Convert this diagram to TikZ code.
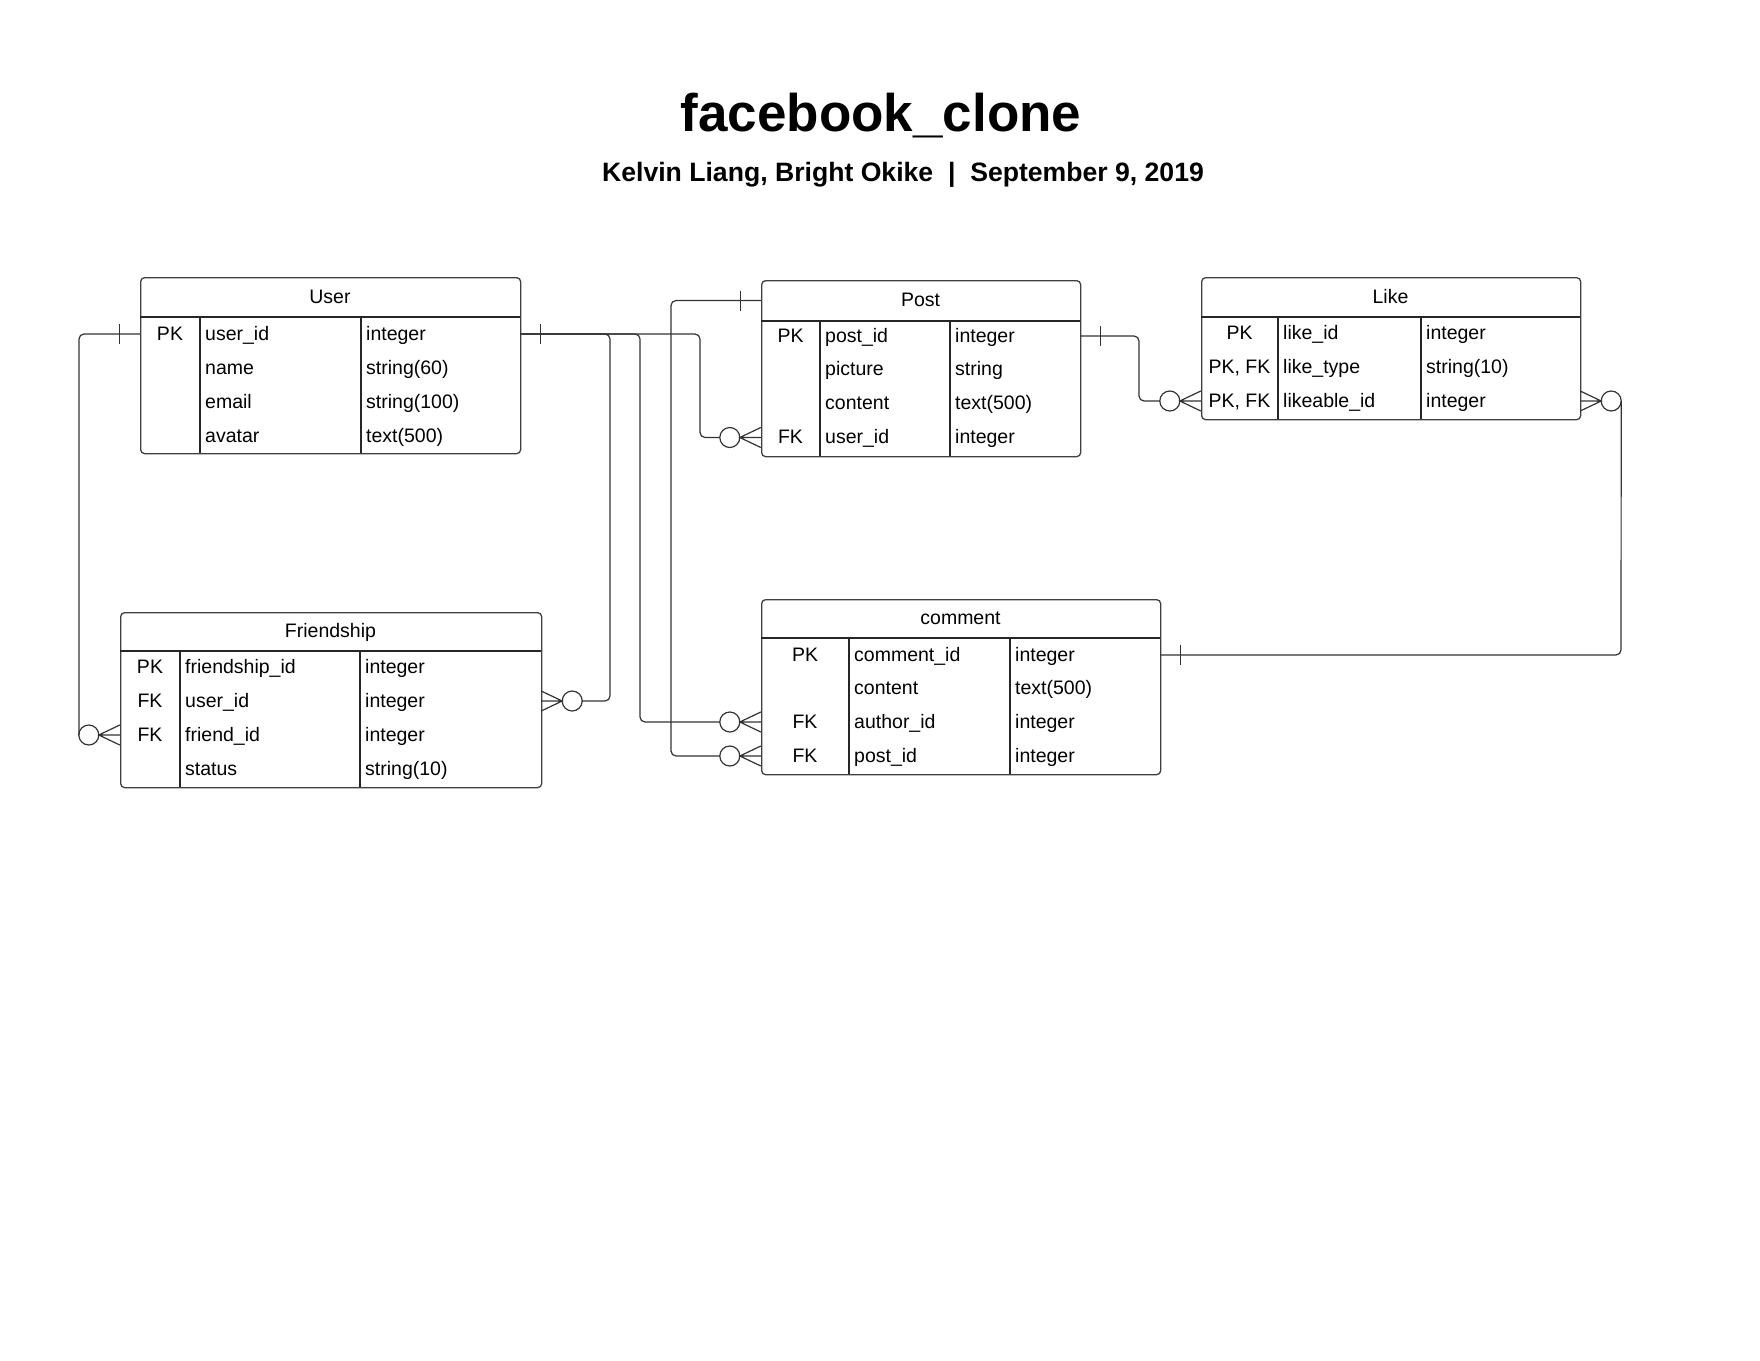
\documentclass[tikz,border=0pt]{standalone}
\usepackage{fontspec}
\setmainfont{Liberation Sans}
\usetikzlibrary{calc}

\newcommand\mktable[9]{%
  \def\tL{#2}\def\tR{#4}\def\tA{#7}\def\tB{#8}%
  \node[tblbox, minimum width={#4-#2}, minimum height={#6-#3}, anchor=north west] (#1) at (#2,#3) {};
  \draw[tblline] (#2,#5) -- (#4,#5) (#7,#5) -- (#7,#6) (#8,#5) -- (#8,#6);
  \node[rowbox, minimum width={#4-#2}] (#10) at ({(#2+#4)/2},{(#3+#5)/2}) {};
  \node[cell] (#1t) at ({(#2+#4)/2},{(#3+#5)/2}) {#9};
}
\newcommand\mkrow[5]{%
  \node[rowbox, minimum width={\tR-\tL}] (#1) at ({(\tL+\tR)/2},#2) {};
  \node[cell] (#1k) at ({(\tL+\tA)/2},#2) {#3};
  \node[cell, anchor=west] (#1f) at ({\tA+5},#2) {#4};
  \node[cell, anchor=west] (#1y) at ({\tB+5},#2) {#5};
}

\begin{document}
\begin{tikzpicture}[x=1pt,y=-1pt,
  conn/.style={draw=black!80, line width=1.2pt},
  rc/.style={rounded corners=5pt},
  tblbox/.style={draw=black!75, line width=1.3pt, rounded corners=4pt, inner sep=0pt},
  tblline/.style={draw=black!85, line width=1.1pt},
  rowbox/.style={inner sep=0pt, minimum height=30pt, draw=none},
  cell/.style={inner sep=0pt, text height=13pt, text depth=1pt, font=\fontsize{19.5}{23}\selectfont},
  crowzero/.pic={\draw[conn] (-31,0) circle[radius=10];
                 \draw[conn] (0,-10) -- (-21,0) -- (0,10) (-21,0) -- (0,0);},
  onebar/.pic={\draw[conn] (-20,-10) -- (-20,10);}
]
\useasboundingbox[fill=white] (0,0) rectangle (1760,1360);

% titles
\node[anchor=base, inner sep=0pt, font=\bfseries\fontsize{53}{60}\selectfont] (title) at (881,131.7) {facebook\_clone};
\node[anchor=base, inner sep=0pt, font=\bfseries\fontsize{26.6}{30}\selectfont] (subtitle) at (903,181.7)
  {Kelvin Liang, Bright Okike\hspace{0.556em}|\hspace{0.556em}September 9, 2019};

% User
\mktable{user}{140}{277}{520}{317}{453}{200}{361}{User}
\mkrow{user1}{334}{PK}{user\_id}{integer}
\mkrow{user2}{368}{}{name}{string(60)}
\mkrow{user3}{402}{}{email}{string(100)}
\mkrow{user4}{436}{}{avatar}{text(500)}

% Post
\mktable{post}{761}{280}{1080}{321}{456}{820}{950}{Post}
\mkrow{post1}{336}{PK}{post\_id}{integer}
\mkrow{post2}{369.5}{}{picture}{string}
\mkrow{post3}{403.5}{}{content}{text(500)}
\mkrow{post4}{437.5}{FK}{user\_id}{integer}

% Like
\mktable{like}{1201}{277}{1580}{317}{419}{1278}{1421}{Like}
\mkrow{like1}{333.5}{PK}{like\_id}{integer}
\mkrow{like2}{367.5}{PK, FK}{like\_type}{string(10)}
\mkrow{like3}{401}{PK, FK}{likeable\_id}{integer}

% Friendship
\mktable{fr}{120}{612}{541}{651}{787}{180}{360}{Friendship}
\mkrow{fr1}{667}{PK}{friendship\_id}{integer}
\mkrow{fr2}{701}{FK}{user\_id}{integer}
\mkrow{fr3}{735}{FK}{friend\_id}{integer}
\mkrow{fr4}{769}{}{status}{string(10)}

% comment
\mktable{cm}{761}{599}{1160}{638}{774}{849}{1010}{comment}
\mkrow{cm1}{655}{PK}{comment\_id}{integer}
\mkrow{cm2}{688.5}{}{content}{text(500)}
\mkrow{cm3}{722}{FK}{author\_id}{integer}
\mkrow{cm4}{756}{FK}{post\_id}{integer}

% lanes
\coordinate (laneL) at (79,0);
\coordinate (laneF) at (610,0);
\coordinate (laneC) at (640,0);
\coordinate (laneQ) at (671,0);
\coordinate (laneP) at (700,0);
\coordinate (laneR) at (1139,0);
\coordinate (laneS) at (1621,0);

% User -> Friendship.friend_id
\draw[conn, rc] (user1.west) -- (user1.west -| laneL) -- (laneL |- fr3.west);
\pic at (user1.west) {onebar};
\pic at (fr3.west) {crowzero};

% User -> Post.user_id
\draw[conn, rc] (user1.east) -- (user1.east -| laneP) -- (laneP |- post4.west) -- ($(post4.west)+(-41,0)$);
\pic[xscale=-1] at (user1.east) {onebar};
\pic at (post4.west) {crowzero};

% User -> Friendship.user_id
\draw[conn, rc] (user1.east) -- (user1.east -| laneF) -- (laneF |- fr2.east) -- ($(fr2.east)+(41,0)$);
\pic[xscale=-1] at (fr2.east) {crowzero};

% User -> comment.author_id
\draw[conn, rc] (user1.east) -- (user1.east -| laneC) -- (laneC |- cm3.west) -- ($(cm3.west)+(-41,0)$);
\pic at (cm3.west) {crowzero};

% Post -> comment.post_id
\draw[conn, rc] (post0.west) -- (post0.west -| laneQ) -- (laneQ |- cm4.west) -- ($(cm4.west)+(-41,0)$);
\pic at (post0.west) {onebar};
\pic at (cm4.west) {crowzero};

% Post -> Like.likeable_id
\draw[conn, rc] (post1.east) -- (post1.east -| laneR) -- (laneR |- like3.west) -- ($(like3.west)+(-41,0)$);
\pic[xscale=-1] at (post1.east) {onebar};
\pic at (like3.west) {crowzero};

% comment -> Like.likeable_id
\draw[conn, rc] ($(like3.east)+(41,0)$) -- (laneS |- cm1.east) -- (cm1.east);
\pic[xscale=-1] at (like3.east) {crowzero};
\pic[xscale=-1] at (cm1.east) {onebar};
\end{tikzpicture}
\end{document}
